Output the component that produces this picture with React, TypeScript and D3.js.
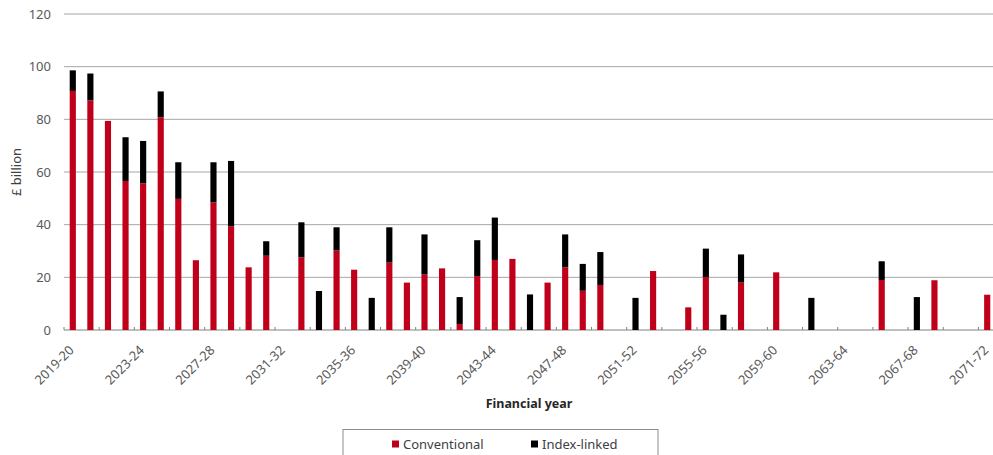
import React from 'react'
import * as d3 from 'd3'

// redemption profile, £ billion
const years: string[] = []
for (let y = 2019; y <= 2071; y++) years.push(`${y}-${String((y + 1) % 100).padStart(2, '0')}`)

const conventional = [
  90.8, 87.2, 79.4, 56.6, 55.7, 80.8, 49.8, 26.5, 48.5, 39.4,
  23.8, 28.2, 0, 27.6, 0, 30.2, 22.9, 0, 25.6, 18.0,
  21.1, 23.4, 2.3, 20.5, 26.6, 27.0, 0, 18.0, 23.8, 14.9,
  17.1, 0, 0, 22.4, 0, 8.6, 20.1, 0, 18.0, 0,
  21.9, 0, 0, 0, 0, 0, 19.0, 0, 0, 18.9,
  0, 0, 13.4
]
const indexLinked = [
  7.8, 10.2, 0, 16.6, 16.1, 9.8, 13.9, 0, 15.2, 24.8,
  0, 5.5, 0, 13.3, 14.8, 8.8, 0, 12.2, 13.4, 0,
  15.2, 0, 10.2, 13.6, 16.1, 0, 13.5, 0, 12.5, 10.2,
  12.5, 0, 12.2, 0, 0, 0, 10.8, 5.8, 10.7, 0,
  0, 0, 12.2, 0, 0, 0, 7.1, 0, 12.5, 0,
  0, 0, 0
]
const yTicks = [0, 20, 40, 60, 80, 100, 120]
const seriesNames = ['Conventional', 'Index-linked']
const seriesColors = ['#c0001a', '#000000']

const W = 993
const H = 455
const left = 64
const right = 996
const top = 14
const bottom = 330
const font = 'Noto Sans, sans-serif'

const App = () => {
  const x = d3.scaleBand<string>().domain(years).range([left, right]).paddingInner(0.65).paddingOuter(0.325)
  const y = d3.scaleLinear().domain([0, 120]).range([bottom, top])
  const step = x.step()

  const rows = years.map((yr, i) => ({ yr, conventional: conventional[i], indexLinked: indexLinked[i] }))
  const stack = d3.stack<any>().keys(['conventional', 'indexLinked'])(rows)

  return (
    <svg width={W} height={H} style={{ position: 'absolute', left: 0, top: 0, background: '#fff' }} fontFamily={font}>
      {/* gridlines */}
      {yTicks.map(t => (
        <line key={t} x1={left} x2={W} y1={y(t)} y2={y(t)} stroke={t === 0 ? '#808080' : '#a6a6a6'} strokeWidth={1} />
      ))}
      {yTicks.map(t => (
        <text key={'l' + t} x={51} y={y(t)} dy='0.35em' textAnchor='end' fontSize={13} fill='#595959'>{t}</text>
      ))}
      <text transform={`translate(21, ${(top + bottom) / 2}) rotate(-90)`} textAnchor='middle' fontSize={13} fill='#404040'>£ billion</text>

      {/* bars */}
      {stack.map((s, si) => (
        <g key={si} fill={seriesColors[si]}>
          {s.map((d, i) => d[1] - d[0] > 0
            ? <rect key={i} x={x(years[i])} width={x.bandwidth()} y={y(d[1])} height={y(d[0]) - y(d[1])} />
            : null)}
        </g>
      ))}

      {/* x ticks, every second boundary */}
      {years.map((yr, i) => i % 2 === 0
        ? <line key={'t' + i} x1={left + i * step} x2={left + i * step} y1={bottom} y2={bottom - 3} stroke='#808080' />
        : null)}
      {years.map((yr, i) => i % 4 === 0
        ? <text key={'x' + i} transform={`translate(${(x(yr) as number) + x.bandwidth() / 2 + 2}, ${bottom + 21}) rotate(-45)`}
          textAnchor='end' fontSize={13} fill='#595959'>{yr}</text>
        : null)}
      <text x={529} y={408} textAnchor='middle' fontSize={12.5} fontWeight='bold' fill='#262626'>Financial year</text>

      {/* legend */}
      <rect x={343} y={429.5} width={315} height={40} fill='#fff' stroke='#8c8c8c' />
      {seriesNames.map((n, i) => (
        <g key={n} transform={`translate(${i === 0 ? 392 : 531}, 444)`}>
          <rect x={0} y={-3.5} width={7} height={7} fill={seriesColors[i]} />
          <text x={11} y={0} dy='0.35em' fontSize={13} fill='#404040'>{n}</text>
        </g>
      ))}
    </svg>
  )
}

export default App
